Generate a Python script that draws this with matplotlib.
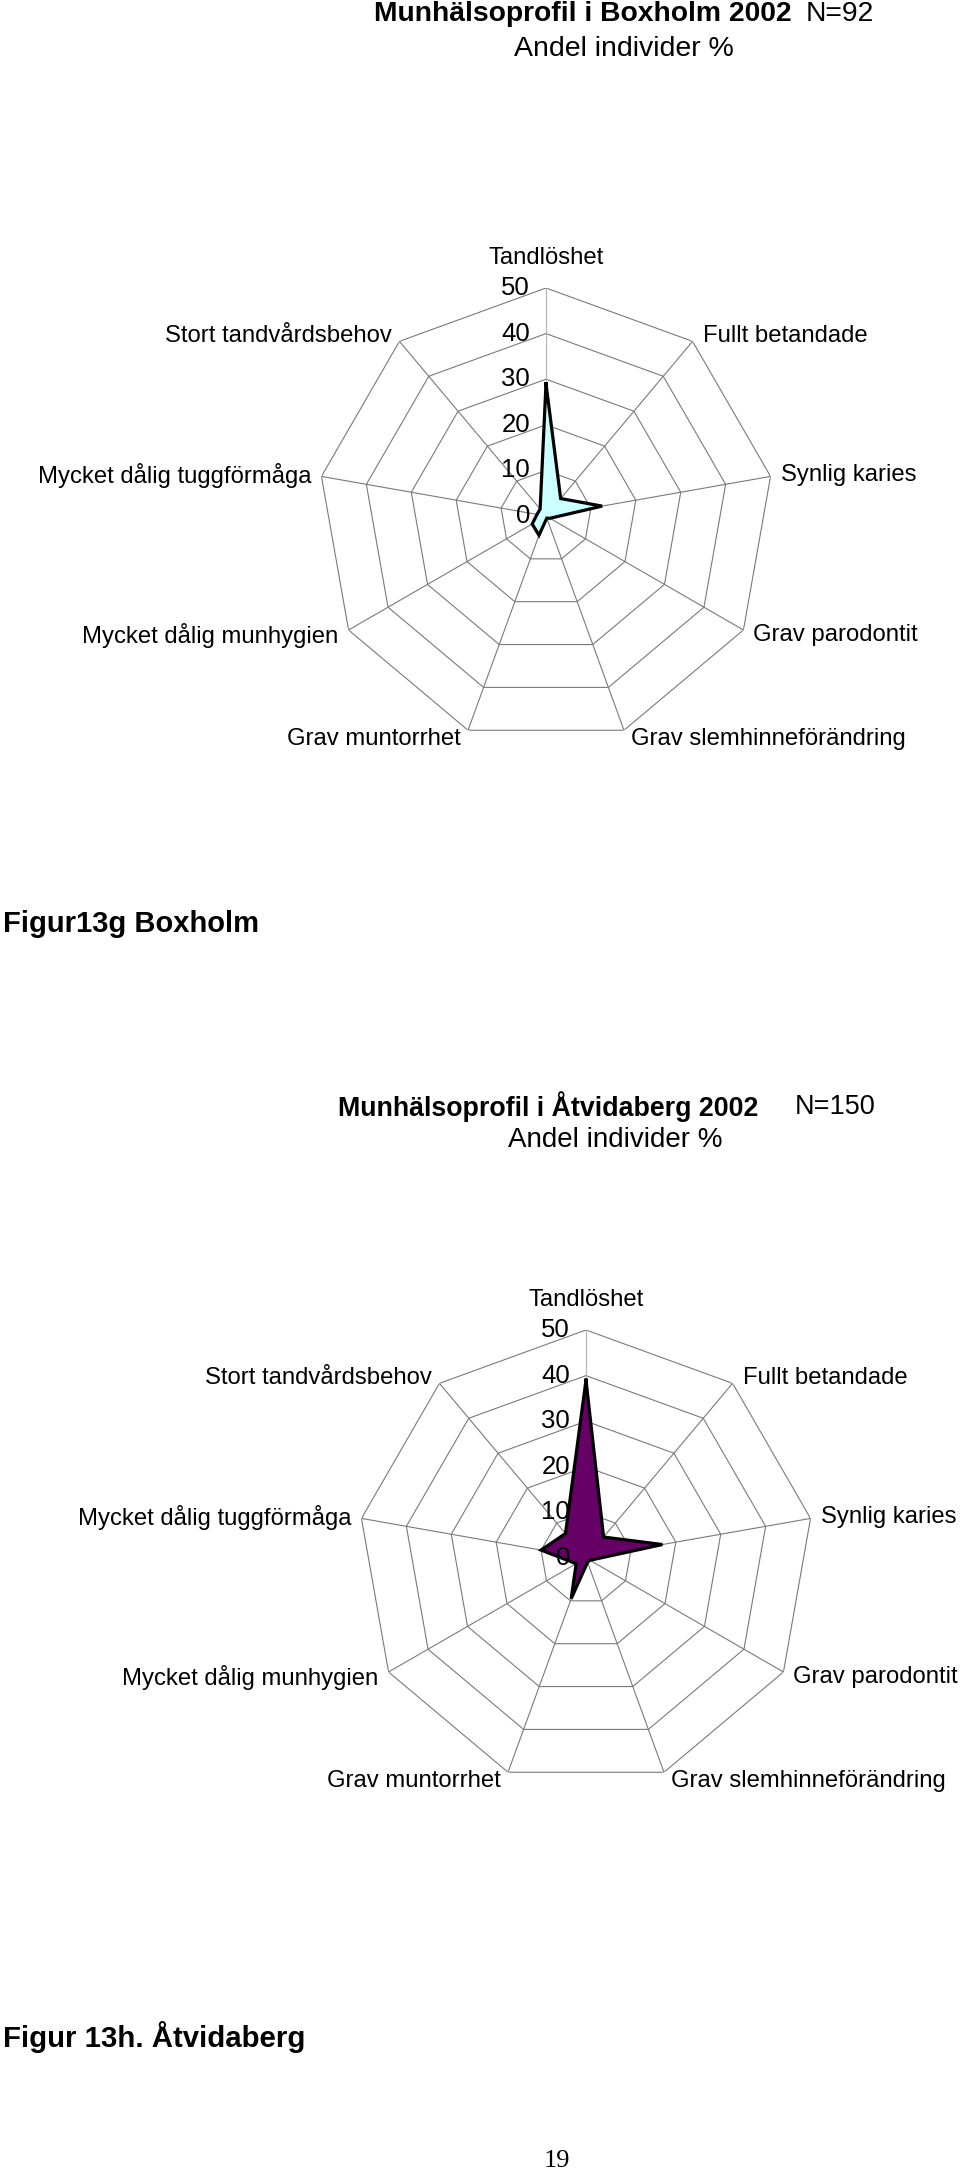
import numpy as np
import matplotlib
matplotlib.use("Agg")
import matplotlib.pyplot as plt

plt.rcParams['font.family'] = ['Liberation Sans', 'DejaVu Sans']

# data (andel individer %)
categories = ["Tandlöshet", "Fullt betandade", "Synlig karies", "Grav parodontit",
              "Grav slemhinneförändring", "Grav muntorrhet", "Mycket dålig munhygien",
              "Mycket dålig tuggförmåga", "Stort tandvårdsbehov"]
boxholm = [29, 5, 12.5, 1, 0.5, 4.5, 3.5, 2, 2]
atvidaberg = [39, 6, 17, 1, 1, 9.5, 2.5, 10, 7]
rings = [10, 20, 30, 40, 50]
tick_values = [0, 10, 20, 30, 40, 50]

# label offsets from the outer vertex, in pixels (dx, dy, ha)
label_offsets = [(0, 30, 'center'), (10, 5, 'left'), (10, 1, 'left'), (10, -5, 'left'),
                 (7, -9, 'left'), (-7, -9, 'right'), (-10, -5, 'right'),
                 (-10, 1, 'right'), (-8, 5, 'right')]

PX = 0.72  # pixels -> points at dpi 100
FS = 17.2


def radar(ax, values, color):
    n = len(categories)
    theta = np.arange(n) * 2 * np.pi / n
    tc = np.append(theta, theta[0])
    ax.set_theta_zero_location('N')
    ax.set_theta_direction(-1)
    ax.set_ylim(0, 50)
    ax.grid(False)
    ax.spines['polar'].set_visible(False)
    ax.set_xticks([])
    ax.set_yticks([])

    for r in rings:
        ax.plot(tc, [r] * (n + 1), color='#7a7a7a', lw=0.8, zorder=1)
    for i, t in enumerate(theta):
        ax.plot([t, t], [0, 50], color='#b5b5b5' if i == 0 else '#7a7a7a', lw=0.8, zorder=1)

    vals = np.append(values, values[0])
    ax.fill(tc, vals, color=color, zorder=3)
    ax.plot(tc, vals, color='black', lw=2.3, zorder=4, solid_joinstyle='miter')

    for t, lab, (dx, dy, ha) in zip(theta, categories, label_offsets):
        ax.annotate(lab, xy=(t, 50), xytext=(dx * PX, dy * PX), textcoords='offset points',
                    ha=ha, va='center', fontsize=FS, annotation_clip=False)
    for v in tick_values:
        ax.annotate(str(v), xy=(0, v), xytext=(-16 * PX, 0), textcoords='offset points',
                    ha='right', va='center', fontsize=18.5, annotation_clip=False)


W, H = 960, 2176
fig = plt.figure(figsize=(W / 100, H / 100), dpi=100)
R = 228


def axes_at(cx, cy):
    return fig.add_axes([(cx - R) / W, 1 - (cy + R) / H, 2 * R / W, 2 * R / H], projection='polar')


ax1 = axes_at(546, 516)
radar(ax1, boxholm, '#ccffff')
ax2 = axes_at(586, 1558)
radar(ax2, atvidaberg, '#660066')

# titles
fig.text(792 / W, 1 - 14 / H, "Munhälsoprofil i Boxholm 2002", ha='right', va='center',
         fontsize=20.3, fontweight='bold')
fig.text(806 / W, 1 - 14 / H, "N=92", ha='left', va='center', fontsize=20.3)
fig.text(624 / W, 1 - 49 / H, "Andel individer %", ha='center', va='center', fontsize=20.5)

fig.text(758 / W, 1 - 1107 / H, "Munhälsoprofil i Åtvidaberg 2002", ha='right', va='center',
         fontsize=19.3, fontweight='bold')
fig.text(795 / W, 1 - 1107 / H, "N=150", ha='left', va='center', fontsize=19.5)
fig.text(615 / W, 1 - 1140 / H, "Andel individer %", ha='center', va='center', fontsize=20)

fig.text(3 / W, 1 - 924 / H, "Figur13g Boxholm", ha='left', va='center',
         fontsize=21, fontweight='bold')
fig.text(3 / W, 1 - 2037 / H, "Figur 13h. Åtvidaberg", ha='left', va='center',
         fontsize=21.2, fontweight='bold')
fig.text(557 / W, 1 - 2161 / H, "19", ha='center', va='center', fontsize=19,
         family='Liberation Serif')

fig.savefig('out.png', dpi=100)
